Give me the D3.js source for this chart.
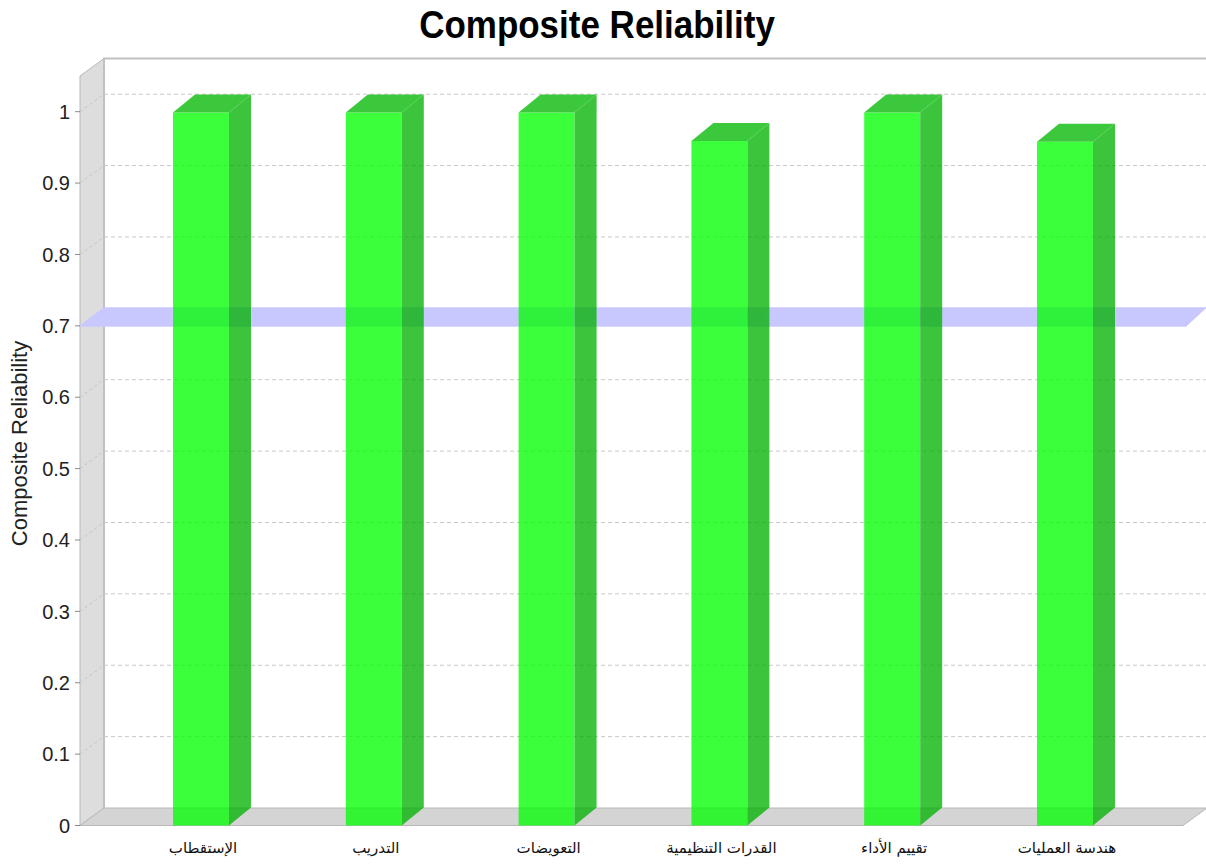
<!DOCTYPE html>
<html><head><meta charset="utf-8">
<script src="https://cdn.jsdelivr.net/npm/d3@7"></script>
<style>html,body{margin:0;padding:0;background:#fff;}</style>
</head><body>
<svg id="chart" width="1206" height="864"></svg>
<script>
const categories = ["الإستقطاب", "التدريب", "التعويضات", "القدرات التنظيمية", "تقييم الأداء", "هندسة العمليات"];
const values = [0.999, 0.999, 0.999, 0.959, 0.999, 0.958];
const yTicks = [0, 0.1, 0.2, 0.3, 0.4, 0.5, 0.6, 0.7, 0.8, 0.9, 1];
const tickLabels = ["0", "0.1", "0.2", "0.3", "0.4", "0.5", "0.6", "0.7", "0.8", "0.9", "1"];
const thresholdValue = 0.7;
const chartTitle = "Composite Reliability";
const yAxisTitle = "Composite Reliability";

const svg = d3.select("#chart");
const X0 = 80, X1 = 1183;          // front face of plot
const WDX = 24, WDY = 17.5;        // wall depth offset
const BDX = 22, BDY = 18;          // bar depth offset
const y = d3.scaleLinear().domain([0, 1.05]).range([825.5, 76]);
const x = d3.scaleBand().domain(categories).range([114.6, 1151.4]).paddingInner(0.676).paddingOuter(0.338);

const line = d3.line();
const poly = pts => line(pts) + "Z";

// back wall
svg.append("rect").attr("x", X0 + WDX).attr("y", y(1.05) - WDY)
  .attr("width", X1 + WDX - X0 - WDX).attr("height", y(0) - y(1.05))
  .attr("fill", "#ffffff");
// left wall
svg.append("path").attr("d", poly([[X0, y(0)], [X0, y(1.05)], [X0 + WDX, y(1.05) - WDY], [X0 + WDX, y(0) - WDY]]))
  .attr("fill", "#dddddd").attr("stroke", "#b8b8b8").attr("stroke-width", 1);
// floor
svg.append("path").attr("d", poly([[X0, y(0)], [X1, y(0)], [X1 + WDX, y(0) - WDY], [X0 + WDX, y(0) - WDY]]))
  .attr("fill", "#d4d4d4").attr("stroke", "#b8b8b8").attr("stroke-width", 1);
// outline top/back
svg.append("path").attr("d", line([[X0 + WDX, y(0) - WDY], [X0 + WDX, y(1.05) - WDY], [1206, y(1.05) - WDY]]))
  .attr("fill", "none").attr("stroke", "#c0c0c0").attr("stroke-width", 2);

// gridlines
const grid = svg.append("g");
yTicks.forEach(v => {
  if (v === 0) return;
  grid.append("line").attr("x1", X0 + WDX).attr("x2", X1 + WDX)
    .attr("y1", y(v) - WDY).attr("y2", y(v) - WDY)
    .attr("stroke", "#c8c8c8").attr("stroke-width", 1).attr("stroke-dasharray", "4,3");
  grid.append("line").attr("x1", X0).attr("x2", X0 + WDX)
    .attr("y1", y(v)).attr("y2", y(v) - WDY)
    .attr("stroke", "#c4c4c4").attr("stroke-width", 1).attr("stroke-dasharray", "3,3");
});

// threshold band
const yt = y(thresholdValue);
svg.append("path").attr("d", poly([[X0 - 2, yt + 1], [X1 + 3, yt + 1], [X1 + WDX, yt - WDY - 1], [X0 + WDX, yt - WDY - 1]]))
  .attr("fill", "#c8c8ff");

// bars
const bars = svg.append("g");
categories.forEach((c, i) => {
  const v = values[i];
  const xl = x(c), xr = x(c) + x.bandwidth();
  const yTop = y(v), yB = y(0);
  const g = bars.append("g").attr("opacity", 0.76);
  g.append("path").attr("d", poly([[xl, yTop], [xr, yTop], [xr, yB], [xl, yB]])).attr("fill", "#00ff00");
  g.append("path").attr("d", poly([[xr, yTop], [xr + BDX, yTop - BDY], [xr + BDX, yB - BDY], [xr, yB]])).attr("fill", "#00b200");
  g.append("path").attr("d", poly([[xl, yTop], [xl + BDX, yTop - BDY], [xr + BDX, yTop - BDY], [xr, yTop]])).attr("fill", "#00b800");
});

// y axis ticks and labels
const ax = svg.append("g");
yTicks.forEach((v, i) => {
  ax.append("line").attr("x1", 75).attr("x2", X0).attr("y1", y(v)).attr("y2", y(v))
    .attr("stroke", "#888").attr("stroke-width", 1);
  ax.append("text").attr("x", 70).attr("y", y(v)).attr("dy", "0.36em")
    .attr("text-anchor", "end").attr("font-family", "Liberation Sans, Arial, sans-serif")
    .attr("font-size", 20).attr("fill", "#222").text(tickLabels[i]);
});

// category labels
categories.forEach(c => {
  svg.append("text").attr("x", x(c) + x.bandwidth() / 2 + 2).attr("y", 853)
    .attr("text-anchor", "middle").attr("font-family", "DejaVu Sans, Noto Sans, sans-serif")
    .attr("font-size", 15).attr("fill", "#111").attr("direction", "rtl").attr("unicode-bidi", "embed").text(c);
});

// title (slightly tall, as in the reference)
svg.append("text").attr("transform", "translate(597,38) scale(1,1.12)").attr("text-anchor", "middle")
  .attr("font-family", "Liberation Sans, Arial, sans-serif").attr("font-weight", "bold")
  .attr("font-size", 35).attr("fill", "#000").text(chartTitle);

// y axis title
svg.append("text").attr("transform", "translate(27,443.5) rotate(-90)")
  .attr("text-anchor", "middle").attr("font-family", "Liberation Sans, Arial, sans-serif")
  .attr("font-size", 22).attr("fill", "#222").text(yAxisTitle);
</script>
</body></html>
